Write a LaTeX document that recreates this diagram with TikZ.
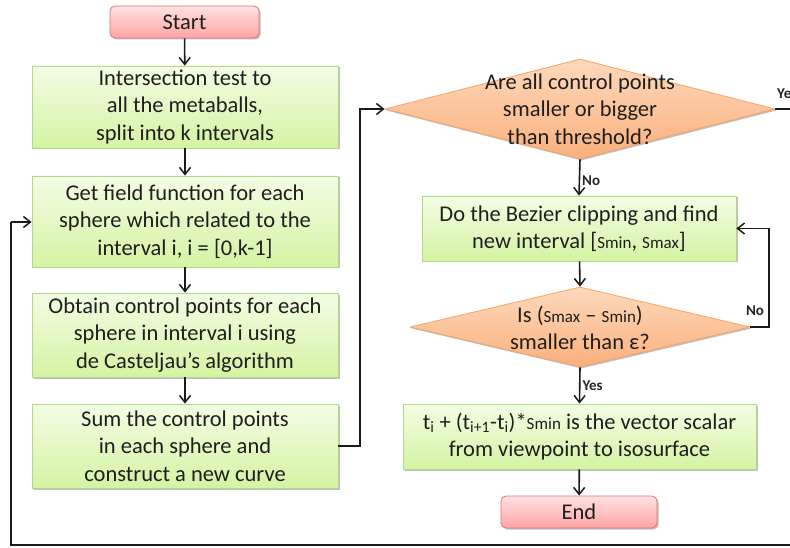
\documentclass[tikz,border=0pt]{standalone}
\usepackage{fontspec}
\setmainfont{Carlito}
\usetikzlibrary{shapes.geometric,shadows,arrows.meta}

\definecolor{grnTop}{HTML}{F2FDE4}
\definecolor{grnBot}{HTML}{D5F3A3}
\definecolor{grnLine}{HTML}{B2D88A}
\definecolor{pnkTop}{HTML}{FFE2E2}
\definecolor{pnkBot}{HTML}{FFA3A3}
\definecolor{pnkLine}{HTML}{DC7676}
\definecolor{orgTop}{HTML}{FDD9BC}
\definecolor{orgBot}{HTML}{FAB07C}
\definecolor{orgLine}{HTML}{F5A366}
\definecolor{wire}{HTML}{1A1A1A}

% small "S_min"-style quantity
\newcommand{\smallq}[1]{{\fontsize{17}{17}\selectfont #1}}

\tikzset{
  txt/.style={font=\fontsize{22.5}{27.5}\selectfont, align=center, text=black!88},
  procbox/.style={txt, draw=grnLine, line width=0.8pt, top color=grnTop, bottom color=grnBot,
    drop shadow={shadow xshift=1.5pt, shadow yshift=-1.5pt, opacity=0.25, fill=black}},
  termbox/.style={txt, draw=pnkLine, line width=0.8pt, rounded corners=5pt,
    top color=pnkTop, bottom color=pnkBot,
    drop shadow={shadow xshift=1.5pt, shadow yshift=-1.5pt, opacity=0.25, fill=black}},
  decbox/.style={txt, diamond, draw=orgLine, line width=0.8pt, inner sep=0pt,
    top color=orgTop, bottom color=orgBot,
    drop shadow={shadow xshift=1.5pt, shadow yshift=-1.5pt, opacity=0.25, fill=black}},
  arr/.style={draw=wire, line width=1.6pt, -{Straight Barb[length=7pt,width=11pt,line width=1.5pt]}},
  wireline/.style={draw=wire, line width=1.6pt},
  lbl/.style={font=\bfseries\fontsize{15}{15}\selectfont, text=black!85, inner sep=2pt}
}

\begin{document}
\begin{tikzpicture}[x=1pt, y=-1pt]
\clip (0,0) rectangle (790,548);
\fill[white] (0,0) rectangle (790,548);

% left column
\node[termbox, minimum width=149pt, minimum height=32pt] (start) at (184.5,22) {Start};
\node[procbox, minimum width=306pt, minimum height=82pt] (b1) at (185,107)
  {Intersection test to\\all the metaballs,\\split into k intervals};
\node[procbox, minimum width=306pt, minimum height=91pt] (b2) at (185,221.5)
  {Get field function for each\\sphere which related to the\\interval i, i = [0,k-1]};
\node[procbox, minimum width=306pt, minimum height=84pt] (b3) at (185,335)
  {Obtain control points for each\\sphere in interval i using\\de Casteljau’s algorithm};
\node[procbox, minimum width=306pt, minimum height=84pt] (b4) at (185,446)
  {Sum the control points\\in each sphere and\\construct a new curve};

% right column
\node[decbox, minimum width=390pt, minimum height=100pt] (d1) at (580,109) {};
\node[txt] (d1t) at (580,109) {Are all control points\\smaller or bigger\\than threshold?};
\node[procbox, minimum width=314pt, minimum height=65pt] (b5) at (579,228.5)
  {Do the Bezier clipping and find\\new interval [\smallq{Smin}, \smallq{Smax}]};
\node[decbox, minimum width=340pt, minimum height=80pt] (d2) at (580,327) {};
\node[txt] (d2t) at (580,328) {Is (\smallq{Smax} – \smallq{Smin})\\smaller than ε?};
\node[procbox, minimum width=353pt, minimum height=65pt] (b6) at (579.5,436.5)
  {t\textsubscript{i} + (t\textsubscript{i+1}-t\textsubscript{i})*\smallq{Smin} is the vector scalar\\from viewpoint to isosurface};
\node[termbox, minimum width=156pt, minimum height=32pt] (end) at (579,512) {End};

% route points
\coordinate (j1) at (360,109);
\coordinate (l1) at (769,327);
\coordinate (r1) at (800,109);
\coordinate (r2) at (800,545);
\coordinate (q1) at (11,545);
\coordinate (q2) at (11,222);

% connectors
\draw[arr] (start) -- (b1);
\draw[arr] (b1) -- (b2);
\draw[arr] (b2) -- (b3);
\draw[arr] (b3) -- (b4);
\draw[arr] (b4.east) -| (j1) -- (d1.west);
\draw[arr] (d1.south) -- node[lbl, right, pos=0.6] {No} (b5.north);
\draw[arr] (b5) -- (d2.north);
\draw[arr] (d2.east) -- (l1) |- (b5.east);
\node[lbl, anchor=south] (no2) at (755,318) {No};
\draw[arr] (d2.south) -- node[lbl, right, pos=0.5] {Yes} (b6.north);
\draw[arr] (b6) -- (end);
\draw[wireline] (d1.east) -- (r1) -- (r2) -- (q1) -- (q2);
\draw[arr] (q2) -- (q2 -| b2.west);
\node[lbl, anchor=south west] (yes1) at (775,101) {Yes};
\end{tikzpicture}
\end{document}
